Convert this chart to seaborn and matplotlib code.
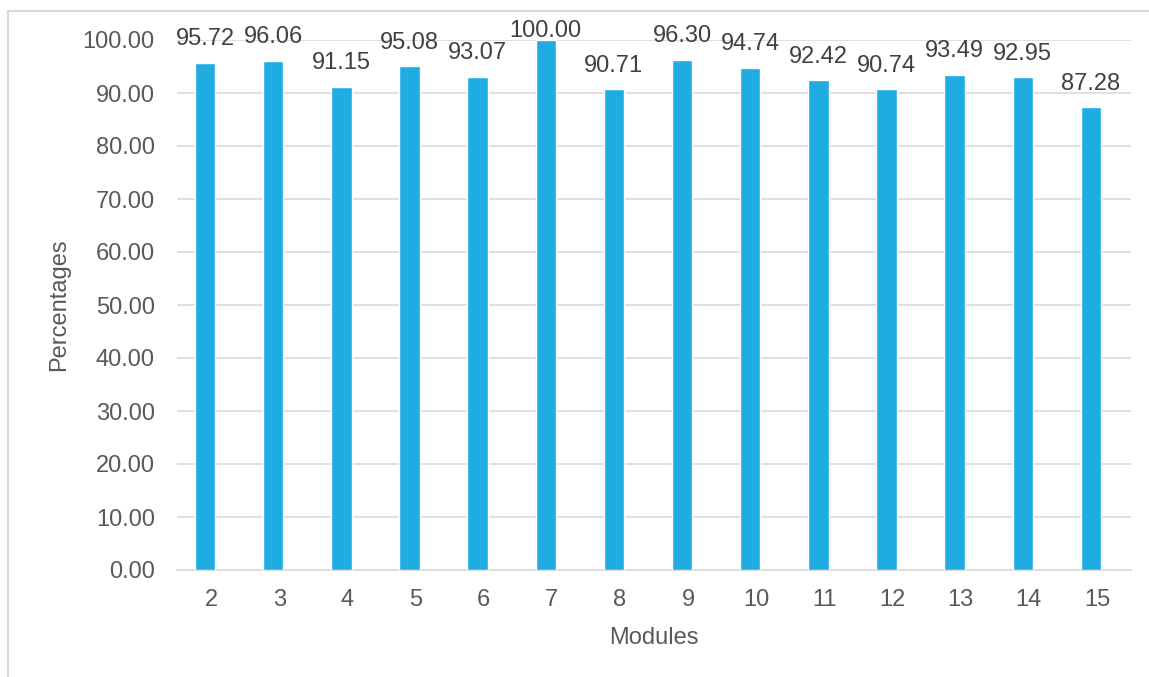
import numpy as np
import pandas as pd
import matplotlib.pyplot as plt
import seaborn as sns
from matplotlib.patches import Rectangle

# data
modules = ['2', '3', '4', '5', '6', '7', '8', '9', '10', '11', '12', '13', '14', '15']
percentages = [95.72, 96.06, 91.15, 95.08, 93.07, 100.00, 90.71, 96.30, 94.74,
               92.42, 90.74, 93.49, 92.95, 87.28]

df = pd.DataFrame({'Modules': modules, 'Percentages': percentages})

sns.set_style('white')
plt.rcParams['font.family'] = ['Liberation Sans', 'DejaVu Sans']

fig = plt.figure(figsize=(11.49, 6.77), dpi=100)
ax = fig.add_axes([177 / 1149, 1 - 570 / 677, (1131 - 177) / 1149, (570 - 40) / 677])

sns.barplot(data=df, x='Modules', y='Percentages', color='#1EACE3',
            saturation=1, width=0.3, ax=ax, zorder=3)

# data labels (the one at the top is pushed down to stay inside the frame)
for i, v in enumerate(percentages):
    off = 9 if v < 98 else -1.5
    ax.annotate(f'{v:.2f}', (i, v), xytext=(0, off), textcoords='offset points',
                ha='center', va='bottom', fontsize=17, color='#404040',
                clip_on=False)

# bars sit a little left of the category centre, like the original
shift = 0.088
ax.set_ylim(0, 100)
ax.set_yticks(np.arange(0, 101, 10))
ax.set_yticklabels([f'{t:.2f}' for t in np.arange(0, 101, 10)])
ax.set_xlim(-0.5 + shift, len(modules) - 0.5 + shift)
ax.set_xticks(np.arange(len(modules)) + shift)
ax.set_xticklabels(modules)
ax.grid(axis='y', color='#D9D9D9', linewidth=1.2, zorder=0)
for s in ['top', 'right', 'left']:
    ax.spines[s].set_visible(False)
ax.spines['bottom'].set_color('#D9D9D9')
ax.spines['bottom'].set_linewidth(1.2)
ax.tick_params(axis='both', length=0, labelsize=17, labelcolor='#595959')
ax.tick_params(axis='y', pad=16)
ax.tick_params(axis='x', pad=14)
ax.set_xlabel('Modules', fontsize=17, color='#595959', labelpad=11)
ax.set_ylabel('Percentages', fontsize=17, color='#595959', labelpad=9)

# chart frame
fig.patches.append(Rectangle((8 / 1149, -0.1), 1.2, 1.1 - 11 / 677,
                             transform=fig.transFigure, fill=False,
                             edgecolor='#D9D9D9', linewidth=1.5))

plt.savefig('out.png', dpi=100)
